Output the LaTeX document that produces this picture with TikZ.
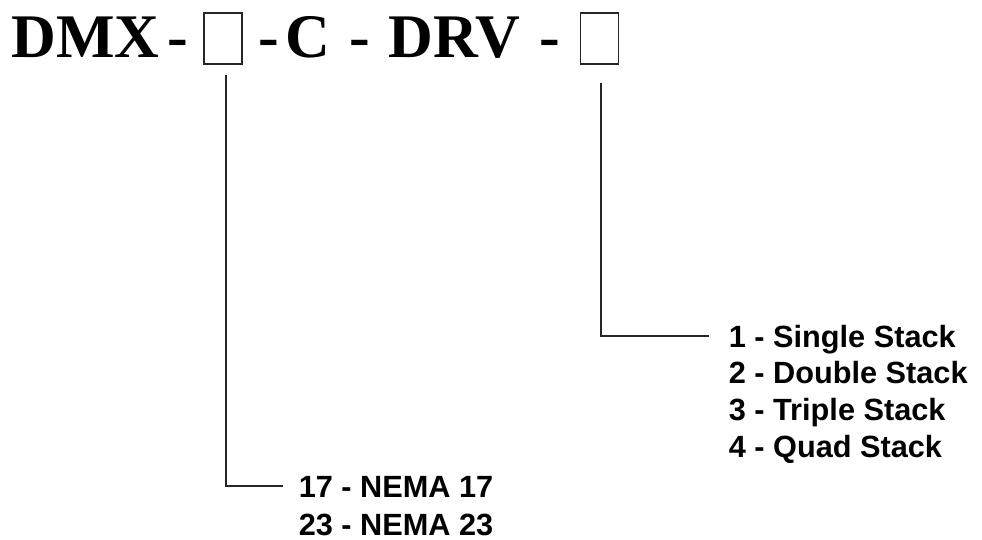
\documentclass[tikz,border=0pt]{standalone}
\usepackage{fontspec}
\setmainfont{Liberation Sans}
\newfontfamily\codefont{Liberation Serif}
\usetikzlibrary{positioning}

\begin{document}
\begin{tikzpicture}[
    x=1pt, y=-1pt,
    code/.style={inner sep=0pt, anchor=base, font=\codefont\bfseries\fontsize{62}{62}\selectfont},
    slot/.style={draw=black!85, line width=1.6pt, minimum width=38pt, minimum height=51pt, inner sep=0pt},
    option/.style={inner sep=0pt, anchor=base west, font=\bfseries\fontsize{30.7}{37}\selectfont},
    lead/.style={draw=black!85, line width=1.3pt}
]
\useasboundingbox (0,0) rectangle (982,539);

% part number
\node[code] (dmx) at (85.4,57) {DMX};
\node[code] (d1) at (178,57) {-};
\node[slot] (size) at (223,38.5) {};
\node[code] (d2) at (269,57) {-};
\node[code] (c) at (308,57) {C};
\node[code] (d3) at (359.5,57) {-};
\node[code] (drv) at (454.5,57) {DRV};
\node[code] (d4) at (549.5,57) {-};
\node[slot] (stack) at (599.5,38.5) {};

% frame size options
\node[option] (n17) at (298.6,497) {17 - NEMA 17};
\node[option] (n23) at (298.6,535) {23 - NEMA 23};

% stack options
\node[option] (s1) at (728.6,347) {1 - Single Stack};
\node[option] (s2) at (728.6,383.7) {2 - Double Stack};
\node[option] (s3) at (728.6,420.4) {3 - Triple Stack};
\node[option] (s4) at (728.6,457) {4 - Quad Stack};

\coordinate (sizetop) at ([xshift=3pt,yshift=-10pt]size.south);
\coordinate (stacktop) at ([xshift=1.5pt,yshift=-18pt]stack.south);

\draw[lead] (sizetop) |- ([xshift=-15.6pt,yshift=11pt]n17.base west);
\draw[lead] (stacktop) |- ([xshift=-19.6pt,yshift=11pt]s1.base west);

\end{tikzpicture}
\end{document}
